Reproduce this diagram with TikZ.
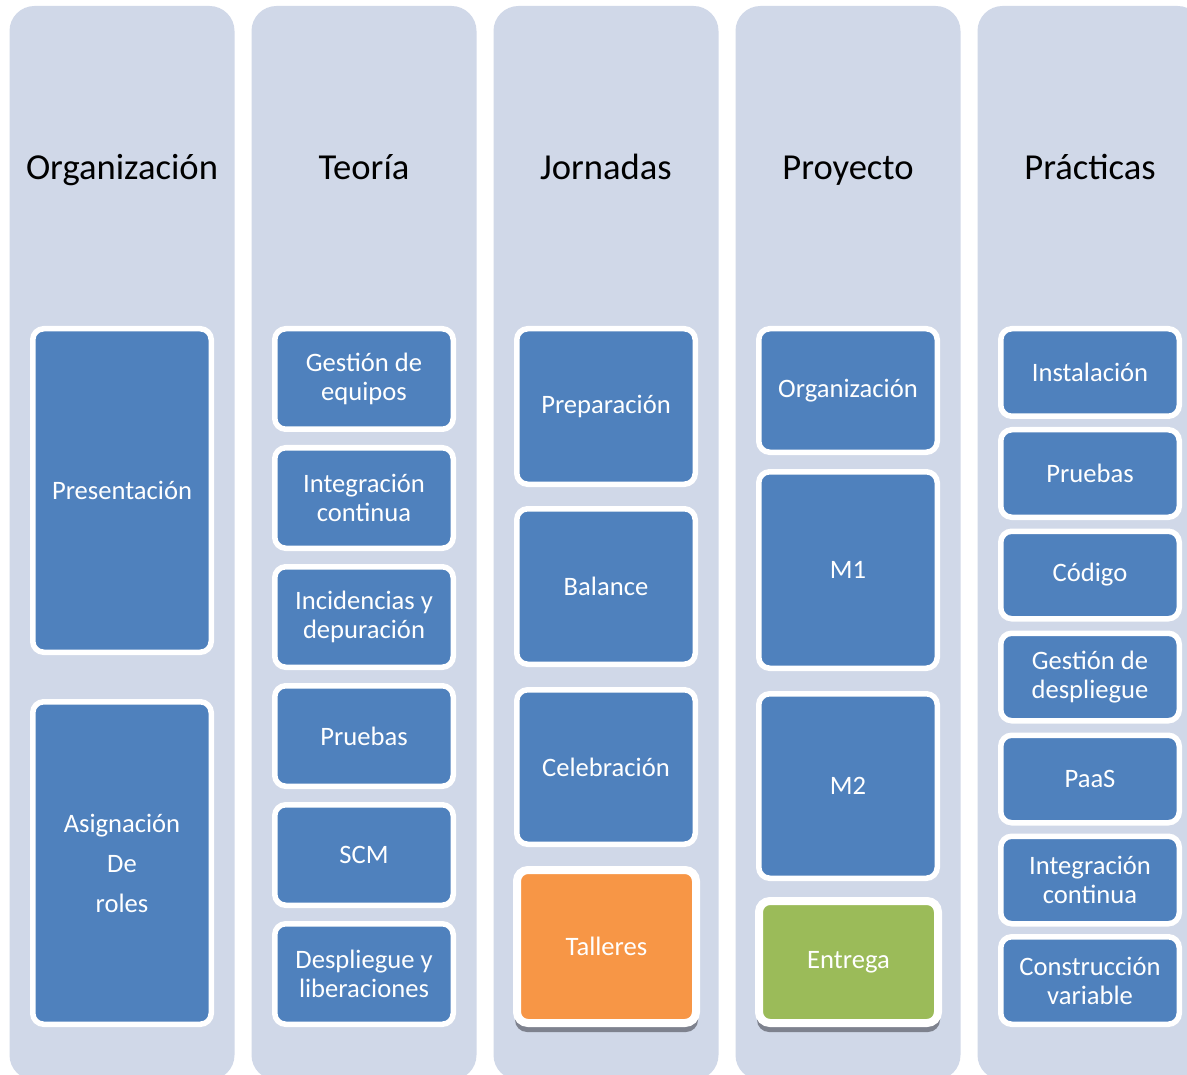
\documentclass[tikz,border=0pt]{standalone}
\usepackage{fontspec}
\setmainfont{Carlito}
\definecolor{colbg}{HTML}{D0D8E8}
\definecolor{boxblue}{HTML}{4F81BD}
\definecolor{accorange}{HTML}{F79646}
\definecolor{accgreen}{HTML}{9BBB59}
\definecolor{shadowgray}{HTML}{7E828E}
\begin{document}
\begin{tikzpicture}[x=1pt,y=-1pt,
  colbox/.style={fill=colbg, rounded corners=25pt},
  header/.style={font=\fontsize{36.6}{43}\selectfont, text=black, anchor=base, inner sep=0pt},
  item/.style={draw=white, line width=5.5pt, fill=boxblue, rounded corners=11pt, text=white,
    align=center, font=\fontsize{26.6}{29}\selectfont, minimum width=178.5pt, inner sep=0pt},
  accent/.style={item, line width=8pt, minimum width=179pt},
  shadowbox/.style={fill=shadowgray, rounded corners=12pt},
]
\useasboundingbox (0,0) rectangle (1187,1075);
\clip (0,0) rectangle (1187,1075);
\fill[white] (0,0) rectangle (1187,1075);

% column backgrounds
\foreach \c in {122,364,606,848,1090}{
  \fill[colbox] (\c-112.5,6) rectangle (\c+112.5,1080);
}

% headers
\node[header] (h1) at (122,179.5) {Organización};
\node[header] (h2) at (364,179.5) {Teoría};
\node[header] (h3) at (606,179.5) {Jornadas};
\node[header] (h4) at (848,179.5) {Proyecto};
\node[header] (h5) at (1090,179.5) {Prácticas};

% column 1
\node[item, minimum height=323.5pt] (c1a) at (122,490.5) {Presentación};
\node[item, minimum height=322.5pt, font=\fontsize{26.6}{40}\selectfont] (c1b) at (122,863) {Asignación\\De\\roles};

% column 2
\node[item, minimum height=100.5pt] (c2a) at (364,379) {Gestión de\\equipos};
\node[item, minimum height=100.5pt] (c2b) at (364,498) {Integración\\continua};
\node[item, minimum height=100.5pt] (c2c) at (364,617) {Incidencias y\\depuración};
\node[item, minimum height=100.5pt] (c2d) at (364,736) {Pruebas};
\node[item, minimum height=100.5pt] (c2e) at (364,855) {SCM};
\node[item, minimum height=100.5pt] (c2f) at (364,974) {Despliegue y\\liberaciones};

% column 3
\node[item, minimum height=155.5pt] (c3a) at (606,406.5) {Preparación};
\node[item, minimum height=155.5pt] (c3b) at (606,586.5) {Balance};
\node[item, minimum height=154.5pt] (c3c) at (606,767) {Celebración};
\fill[shadowbox] (515,872) rectangle (698,1032);
\node[accent, fill=accorange, minimum height=153pt] (c3d) at (606.5,946.5) {\raisebox{-2pt}{Talleres}};

% column 4
\node[item, minimum height=123.5pt] (c4a) at (848,390.5) {Organización};
\node[item, minimum height=196.5pt] (c4b) at (848,570) {M1};
\node[item, minimum height=184.5pt] (c4c) at (848,786) {M2};
\fill[shadowbox] (757,903) rectangle (940,1032);
\node[accent, fill=accgreen, minimum height=122pt] (c4d) at (848.5,962) {\raisebox{-2.5pt}{Entrega}};

% column 5
\node[item, minimum height=87.5pt] (c5a) at (1090,372.5) {Instalación};
\node[item, minimum height=87.5pt] (c5b) at (1090,473.5) {Pruebas};
\node[item, minimum height=87.5pt] (c5c) at (1090,575) {\raisebox{-1.5pt}{Código}};
\node[item, minimum height=87.5pt] (c5d) at (1090,677) {Gestión de\\despliegue};
\node[item, minimum height=87.5pt] (c5e) at (1090,779) {PaaS};
\node[item, minimum height=87.5pt] (c5f) at (1090,880) {Integración\\continua};
\node[item, minimum height=87.5pt] (c5g) at (1090,980.5) {Construcción\\variable};
\end{tikzpicture}
\end{document}
